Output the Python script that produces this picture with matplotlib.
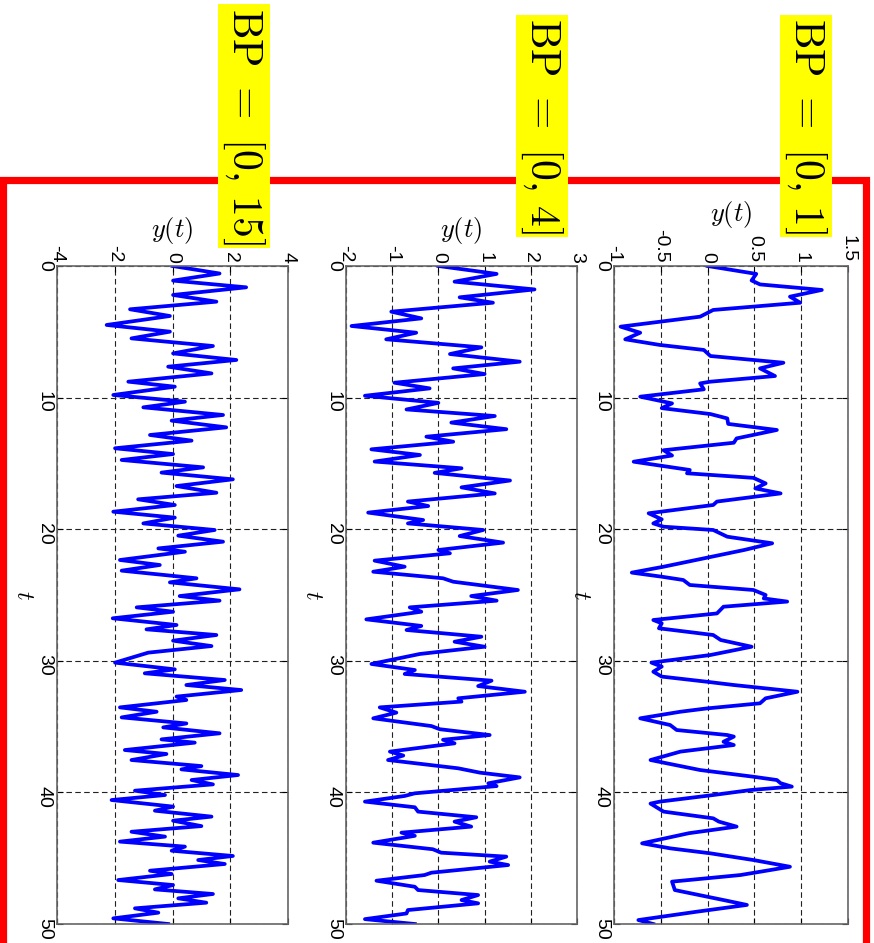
import matplotlib
matplotlib.use("Agg")
import matplotlib.pyplot as plt
from matplotlib.patches import Rectangle
from matplotlib.ticker import FuncFormatter

plt.rcParams["font.family"] = ["Liberation Sans", "DejaVu Sans"]
plt.rcParams["mathtext.fontset"] = "cm"
plt.rcParams["axes.unicode_minus"] = False

# --- output samples y(t) for three bandpass widths ---
t_bp1 = [0, 0.6, 1.1, 1.4, 1.82, 2.33, 2.79, 3.34, 3.85, 4.61, 5.07, 5.57, 6.0, 6.38, 6.84,
         7.35, 7.78, 8.36, 8.79, 8.92, 9.37, 9.93, 10.44, 10.8, 11.25, 11.58, 12.0, 12.46,
         13.1, 13.43, 14.0, 14.4, 14.87, 15.5, 15.75, 16.1, 16.52, 16.9, 17.28, 17.9, 18.16,
         18.79, 19.25, 19.56, 19.81, 20.06, 20.57, 21.07, 21.58, 22.85, 23.3, 23.61, 23.86,
         24.24, 24.62, 25.0, 25.26, 25.5, 25.89, 26.4, 26.9, 27.15, 27.53, 28.04, 28.42,
         28.93, 29.56, 30.14, 30.44, 30.83, 31.2, 31.59, 31.84, 32.35, 32.85, 33.23, 33.62,
         33.87, 34.37, 34.88, 35.26, 35.64, 35.76, 36.15, 36.4, 36.9, 37.54, 38.3, 38.81,
         39.06, 39.3, 39.56, 39.82, 40.2, 40.7, 40.85, 41.46, 41.97, 42.22, 42.6, 43.1,
         43.87, 44.25, 44.63, 45.14, 45.65, 46.28, 46.78, 47.42, 48.18, 48.55, 49.06, 49.7, 50.0]
y_bp1 = [0, 0.52, 0.47, 0.56, 1.22, 0.88, 0.99, 0.06, -0.08, -0.93, -0.72, -0.88, -0.51, -0.04, 0.03,
         0.81, 0.56, 0.72, 0.03, -0.08, -0.04, -0.72, -0.38, -0.49, 0.03, 0.21, 0.22, 0.74,
         0.31, 0.28, -0.47, -0.38, -0.79, -0.19, -0.22, 0.49, 0.62, 0.51, 0.78, 0.1, 0.06,
         -0.63, -0.49, -0.58, -0.47, 0.06, 0.21, 0.69, 0.39, -0.47, -0.81, -0.49, -0.26,
         -0.19, 0.49, 0.62, 0.6, 0.85, 0.17, 0.1, -0.58, -0.49, -0.52, 0.06, 0.14,
         0.47, 0.03, -0.6, -0.49, -0.58, -0.49, -0.01, 0.28, 0.96, 0.62, 0.56, -0.01,
         -0.29, -0.72, -0.4, -0.33, 0.21, 0.28, 0.17, 0.28, -0.29, -0.61, -0.08, 0.49,
         0.74, 0.78, 0.9, 0.46, 0.06, -0.51, -0.61, -0.47, 0.06, 0.12, 0.31, -0.2,
         -0.7, -0.4, 0.03, 0.49, 0.88, 0.35, -0.38, -0.35, 0.17, 0.42, -0.11, -0.74, -0.58]

t_bp4 = [0, 0.6, 1.19, 1.78, 2.38, 2.79, 3.47, 3.98, 4.56, 5.07, 5.57, 6.18, 6.69, 7.27, 7.78,
         8.21, 8.87, 9.3, 9.86, 10.4, 10.9, 11.4, 11.9, 12.4, 12.97, 13.35, 13.93, 14.36,
         14.86, 15.37, 15.72, 16.3, 16.82, 17.28, 17.9, 18.24, 18.74, 19.3, 19.56, 20.06,
         20.52, 21.02, 21.58, 21.83, 22.39, 22.85, 23.23, 23.73, 23.99, 24.62, 25.08, 25.43,
         25.94, 26.27, 26.85, 27.35, 27.66, 28.17, 28.55, 28.93, 29.48, 30.24, 30.7, 31.0,
         31.51, 31.92, 32.35, 32.85, 33.1, 33.54, 33.94, 34.37, 34.96, 35.2, 35.64, 36.0,
         36.27, 36.9, 37.2, 37.54, 38.17, 38.5, 38.86, 39.31, 39.52, 40.07, 40.27, 40.7,
         41.13, 41.46, 41.89, 42.22, 42.6, 43.06, 43.3, 43.82, 44.32, 44.58, 44.88, 45.26,
         45.52, 46.1, 46.28, 46.71, 47.17, 47.42, 47.8, 48.18, 48.43, 48.94, 49.2, 49.63, 50.0]
y_bp4 = [0, 1.26, 0.35, 2.08, 0.46, 1.18, -1.02, -0.37, -1.88, -0.48, -1.13, 0.93, 0.25, 1.76, 0.32,
         1.0, -0.95, -0.19, -1.59, 0, -0.69, 1.22, 0.28, 1.47, -0.26, 0.32, -1.45, -0.4,
         -1.38, 0.5, -0.08, 1.55, 0.5, 1.22, -0.66, -0.22, -1.52, -0.33, -0.66, 0.97,
         0.46, 1.4, 0, 0.25, -1.38, -0.73, -1.41, 0.1, 0.32, 1.72, 0.71, 1.26,
         -0.62, -0.37, -1.56, -0.37, -0.69, 0.93, 0.35, 1.0, -0.4, -1.45, -0.51, -0.73,
         1.15, 0.86, 1.87, 0.43, 0.5, -1.27, -0.91, -1.41, -0.15, 0.03, 1.11, 0.1,
         0.35, -1.05, -0.76, -1.09, 0.43, 0.9, 1.76, 1.08, 1.26, -0.51, -0.73, -1.59,
         -0.51, -0.44, 0.82, 0.35, 0.71, -0.8, -0.51, -1.41, -0.12, 0.06, 1.47, 1.11,
         1.51, -0.15, -0.3, -1.34, -0.51, -0.44, 0.86, 0.5, 0.86, -0.66, -0.69, -1.59, -0.51]

t_bp15 = [0, 0.57, 1.11, 1.62, 2.2, 2.71, 3.29, 3.8, 4.48, 4.99, 5.5, 6.08, 6.64, 7.14, 7.65,
          8.16, 8.79, 9.17, 9.8, 10.31, 10.74, 11.32, 11.75, 12.26, 12.84, 13.27, 13.85,
          14.29, 14.74, 15.3, 15.7, 16.21, 16.72, 17.23, 17.73, 18.16, 18.67, 19.12, 19.56,
          20.06, 20.49, 20.95, 21.46, 21.71, 22.34, 22.72, 23.15, 23.73, 24.04, 24.57, 25.08,
          25.43, 25.94, 26.27, 26.77, 27.28, 27.61, 28.04, 28.47, 28.88, 29.38, 30.14, 30.65,
          30.95, 31.46, 31.84, 32.22, 32.72, 32.98, 33.54, 33.87, 34.3, 34.76, 35.06, 35.51,
          35.97, 36.22, 36.78, 37.08, 37.54, 38.0, 38.25, 38.68, 39.06, 39.39, 39.87, 40.2,
          40.58, 41.08, 41.39, 41.84, 42.15, 42.56, 42.99, 43.36, 43.74, 44.12, 44.43, 44.83,
          45.14, 45.44, 45.95, 46.2, 46.66, 47.04, 47.37, 47.72, 48.05, 48.38, 48.81, 49.14,
          49.57, 50.0]
y_bp15 = [0, 1.63, 0.02, 2.55, 0.02, 1.52, -1.47, -0.09, -2.28, -0.09, -1.42, 1.4, 0.02, 2.21, -0.15,
          1.35, -1.53, 0.08, -2.05, 0.43, -1.01, 1.75, -0.03, 1.86, -0.78, 0.66, -1.99,
          0.02, -1.76, 1.06, -0.38, 2.09, 0.14, 1.52, -1.19, 0.08, -2.05, 0.08, -1.01,
          1.46, 0.2, 1.75, -0.49, 0.43, -1.82, -0.44, -1.76, 0.83, -0.09, 2.32, 0.25,
          1.63, -1.24, 0.02, -2.07, 0.14, -0.9, 1.52, 0.02, 1.35, -0.84, -1.99, 0.08,
          -0.96, 1.81, 0.48, 2.38, 0.14, 0.48, -1.82, -0.55, -1.76, 0.48, -0.32, 1.63,
          -0.38, 0.77, -1.65, -0.21, -1.42, 1.0, 0.31, 2.27, 0.66, 1.4, -1.3, -0.26,
          -2.11, 0.02, -0.61, 1.35, 0.02, 1.0, -1.42, -0.26, -1.82, 0.43, -0.03, 2.09,
          0.89, 1.81, -0.78, -0.03, -1.88, 0.02, -0.61, 1.4, 0.2, 1.17, -1.3, -0.49,
          -2.05, -0.15]

titles = [r"$\mathrm{BP}\ =\ [0,\,15]$", r"$\mathrm{BP}\ =\ [0,\,4]$", r"$\mathrm{BP}\ =\ [0,\,1]$"]
series = [(t_bp15, y_bp15), (t_bp4, y_bp4), (t_bp1, y_bp1)]
y_ranges = [(-4, 4), (-2, 3), (-1, 1.5)]
y_ticks = [[-4, -2, 0, 2, 4], [-2, -1, 0, 1, 2, 3], [-1, -0.5, 0, 0.5, 1, 1.5]]
t_ticks = [0, 10, 20, 30, 40, 50]

W, H = 874, 943
fig = plt.figure(figsize=(W / 100, H / 100), dpi=100)

# panels laid out side by side, t running downwards
panel_px = [(57, 288), (346, 577), (614, 848)]
top_px, bot_px = 266, 924
title_px = [(244, 126), (542, 126), (806, 126)]

# red frame around the figure area
fig.add_artist(Rectangle((3 / W, -0.05), 863 / W, (1 - 180 / H) + 0.05,
                         transform=fig.transFigure, fill=False, ec="#ff0000",
                         lw=5.2, zorder=1))

for i in range(3):
    x0, x1 = panel_px[i]
    ax = fig.add_axes([x0 / W, 1 - bot_px / H, (x1 - x0) / W, (bot_px - top_px) / H])
    tt, yy = series[i]
    ax.plot(yy, tt, color="#0000ff", lw=2.7, solid_joinstyle="round")
    ax.set_xlim(*y_ranges[i])
    ax.set_ylim(50, 0)
    ax.set_xticks(y_ticks[i])
    ax.set_yticks(t_ticks)
    ax.xaxis.set_major_formatter(FuncFormatter(lambda v, p: f"{v:g}"))
    ax.tick_params(axis="x", top=True, bottom=True, labeltop=True, labelbottom=False,
                   direction="in", length=4, labelrotation=-90, labelsize=14, pad=2.5)
    ax.tick_params(axis="y", left=True, right=True, direction="in", length=4,
                   labelrotation=-90, labelsize=14, pad=3)
    ax.grid(True, color="#222222", ls=(0, (5, 3)), lw=0.8)
    for s in ax.spines.values():
        s.set_color("#666666")
        s.set_linewidth(1.2)
    ax.xaxis.set_label_position("top")
    ax.set_xlabel("$y(t)$", fontsize=19, labelpad=6)
    ax.set_ylabel("$t$", fontsize=17, rotation=-90, labelpad=9)
    ax.yaxis.label.set_va("center")

    cx, cy = title_px[i]
    fig.text(cx / W, 1 - cy / H, titles[i], rotation=-90, ha="center", va="center",
             fontsize=30, zorder=5,
             bbox=dict(boxstyle="square,pad=0.08", fc="#ffff00", ec="none"))

fig.savefig("out.png", dpi=100)
